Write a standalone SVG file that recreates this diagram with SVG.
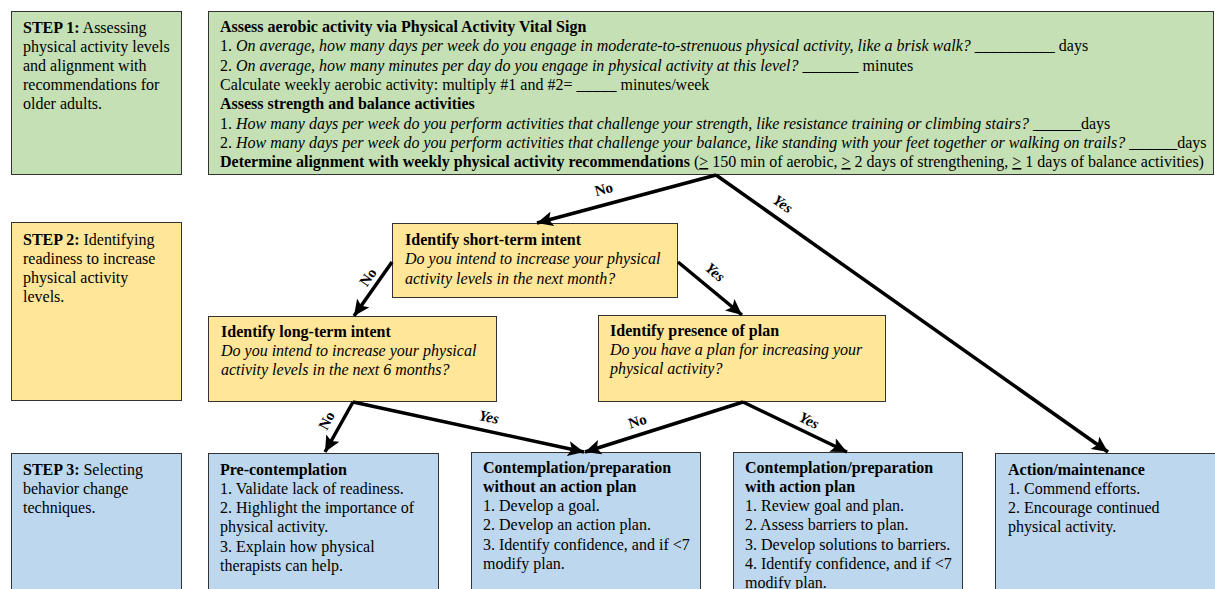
<svg xmlns="http://www.w3.org/2000/svg" width="1215" height="589" viewBox="0 0 1215 589">
<defs>
<marker id="ah" markerUnits="userSpaceOnUse" markerWidth="17" markerHeight="15" refX="16" refY="7.5" orient="auto">
<path d="M0,0 L16,7.5 L0,15 L3.5,7.5 z" fill="#000"/>
</marker>
</defs>
<style>
text{font-family:'Liberation Serif','Times New Roman',serif;font-size:16px;fill:#000}
.b{font-weight:bold}
.i{font-style:italic}
.u{text-decoration:underline}
.g{fill:#c5e0b4;stroke:#333;stroke-width:1}
.y{fill:#ffe699;stroke:#333;stroke-width:1}
.bl{fill:#bdd7ee;stroke:#333;stroke-width:1}
.c{stroke:#000;stroke-width:3.5;fill:none;marker-end:url(#ah)}
.lab{font-weight:bold;font-size:15px;text-anchor:middle}
.yes{font-style:italic}
</style>

<g id="step1">
<rect class="g" x="11.5" y="11.5" width="170" height="163"/>
<text x="23" y="33"><tspan class="b">STEP 1:</tspan> Assessing</text>
<text x="23" y="52">physical activity levels</text>
<text x="23" y="71">and alignment with</text>
<text x="23" y="90">recommendations for</text>
<text x="23" y="109">older adults.</text>
</g>

<g id="assess">
<rect class="g" x="208.5" y="11.5" width="1005" height="163"/>
<text x="220" y="32" class="b">Assess aerobic activity via Physical Activity Vital Sign</text>
<text x="220" y="51">1. <tspan class="i">On average, how many days per week do you engage in moderate-to-strenuous physical activity, like a brisk walk?</tspan> __________ days</text>
<text x="220" y="71">2. <tspan class="i">On average, how many minutes per day do you engage in physical activity at this level?</tspan> _______ minutes</text>
<text x="220" y="90">Calculate weekly aerobic activity: multiply #1 and #2= _____ minutes/week</text>
<text x="220" y="109" class="b">Assess strength and balance activities</text>
<text x="220" y="129">1. <tspan class="i">How many days per week do you perform activities that challenge your strength, like resistance training or climbing stairs?</tspan> ______days</text>
<text x="220" y="148">2. <tspan class="i">How many days per week do you perform activities that challenge your balance, like standing with your feet together or walking on trails?</tspan> ______days</text>
<text x="220" y="167"><tspan class="b">Determine alignment with weekly physical activity recommendations</tspan> (<tspan class="u">&gt;</tspan> 150 min of aerobic, <tspan class="u">&gt;</tspan> 2 days of strengthening, <tspan class="u">&gt;</tspan> 1 days of balance activities)</text>
</g>

<g id="step2">
<rect class="y" x="11.5" y="222.5" width="170" height="178"/>
<text x="23" y="245"><tspan class="b">STEP 2:</tspan> Identifying</text>
<text x="23" y="264">readiness to increase</text>
<text x="23" y="283">physical activity</text>
<text x="23" y="302">levels.</text>
</g>

<g id="short">
<rect class="y" x="392.5" y="223.5" width="285" height="74"/>
<text x="405" y="245" class="b">Identify short-term intent</text>
<text x="405" y="264" class="i">Do you intend to increase your physical</text>
<text x="405" y="284" class="i">activity levels in the next month?</text>
</g>

<g id="long">
<rect class="y" x="208.5" y="316.5" width="288" height="85"/>
<text x="221" y="337" class="b">Identify long-term intent</text>
<text x="221" y="356" class="i">Do you intend to increase your physical</text>
<text x="221" y="375" class="i">activity levels in the next 6 months?</text>
</g>

<g id="plan">
<rect class="y" x="598.5" y="315.5" width="287" height="86"/>
<text x="610" y="336" class="b">Identify presence of plan</text>
<text x="610" y="355" class="i">Do you have a plan for increasing your</text>
<text x="610" y="374" class="i">physical activity?</text>
</g>

<g id="step3">
<rect class="bl" x="11.5" y="453.5" width="170" height="140"/>
<text x="23" y="475"><tspan class="b">STEP 3:</tspan> Selecting</text>
<text x="23" y="494">behavior change</text>
<text x="23" y="513">techniques.</text>
</g>

<g id="precontemplation">
<rect class="bl" x="208.5" y="453.5" width="230" height="140"/>
<text x="220" y="475" class="b">Pre-contemplation</text>
<text x="220" y="494">1. Validate lack of readiness.</text>
<text x="220" y="513">2. Highlight the importance of</text>
<text x="220" y="532">physical activity.</text>
<text x="220" y="552">3. Explain how physical</text>
<text x="220" y="571">therapists can help.</text>
</g>

<g id="without">
<rect class="bl" x="471.5" y="452.5" width="229" height="141"/>
<text x="483" y="473" class="b">Contemplation/preparation</text>
<text x="483" y="492" class="b">without an action plan</text>
<text x="483" y="511">1. Develop a goal.</text>
<text x="483" y="530">2. Develop an action plan.</text>
<text x="483" y="550">3. Identify confidence, and if &lt;7</text>
<text x="483" y="569">modify plan.</text>
</g>

<g id="with">
<rect class="bl" x="733.5" y="452.5" width="229" height="141"/>
<text x="745" y="473" class="b">Contemplation/preparation</text>
<text x="745" y="492" class="b">with action plan</text>
<text x="745" y="511">1. Review goal and plan.</text>
<text x="745" y="530">2. Assess barriers to plan.</text>
<text x="745" y="550">3. Develop solutions to barriers.</text>
<text x="745" y="569">4. Identify confidence, and if &lt;7</text>
<text x="745" y="588">modify plan.</text>
</g>

<g id="action">
<rect class="bl" x="995.5" y="453.5" width="225" height="140"/>
<text x="1008" y="475" class="b">Action/maintenance</text>
<text x="1008" y="494">1. Commend efforts.</text>
<text x="1008" y="513">2. Encourage continued</text>
<text x="1008" y="532">physical activity.</text>
</g>

<g id="connectors">
<line class="c" x1="716" y1="175" x2="537" y2="223"/>
<line class="c" x1="716" y1="175" x2="1108" y2="452"/>
<line class="c" x1="392" y1="262" x2="354" y2="316"/>
<line class="c" x1="678" y1="262" x2="742" y2="315"/>
<line class="c" x1="353" y1="402" x2="325" y2="452"/>
<line class="c" x1="353" y1="402" x2="584" y2="452"/>
<line class="c" x1="743" y1="402" x2="585" y2="452"/>
<line class="c" x1="743" y1="402" x2="847" y2="452"/>
<text class="lab" transform="translate(605,194) rotate(-15)">No</text>
<text class="lab yes" transform="translate(780,208) rotate(35)">Yes</text>
<text class="lab" transform="translate(372,280) rotate(-55)">No</text>
<text class="lab yes" transform="translate(712,276) rotate(40)">Yes</text>
<text class="lab" transform="translate(331,423) rotate(-62)">No</text>
<text class="lab yes" transform="translate(488,422) rotate(12)">Yes</text>
<text class="lab" transform="translate(639,426) rotate(-18)">No</text>
<text class="lab yes" transform="translate(807,425) rotate(26)">Yes</text>
</g>
</svg>
